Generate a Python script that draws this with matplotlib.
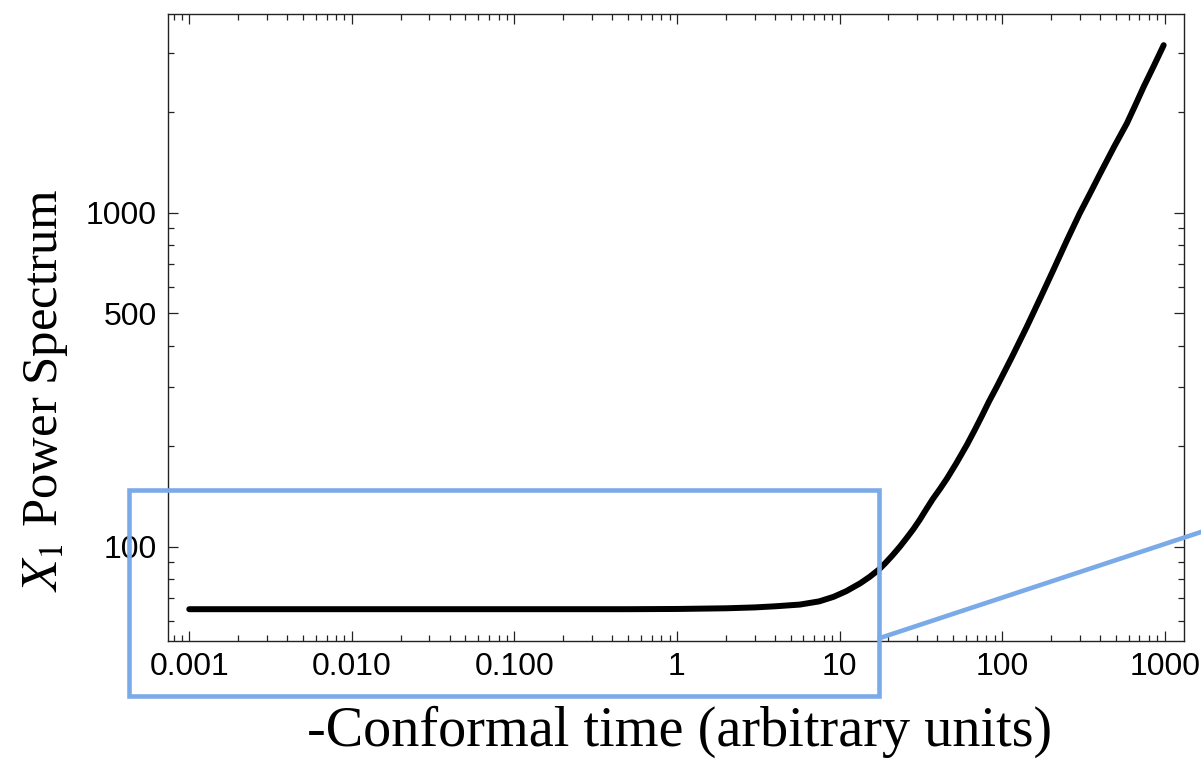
import matplotlib
matplotlib.use("Agg")
import matplotlib.pyplot as plt
from matplotlib.patches import Rectangle
from matplotlib.lines import Line2D
from matplotlib.ticker import FixedLocator, FixedFormatter, NullFormatter

# ---- data ----
conformal_time = [0.001, 0.01, 0.1, 0.5, 1, 2, 3, 4, 5.7, 7.5, 9.2, 11, 13.4,
                  15.3, 17.4, 19, 21, 23.5, 26, 28.5, 31, 34, 37.5, 41.5, 45.8,
                  52, 60.8, 68, 75, 83, 93, 115, 142, 175, 207, 250, 300, 350,
                  402, 490, 586, 660, 743, 860, 986]
power = [65.0, 65.0, 65.0, 65.0, 65.1, 65.4, 65.8, 66.3, 67.1, 68.6, 70.8,
         73.6, 77.7, 81.2, 85.3, 89.0, 93.8, 100, 106.5, 113, 120, 129, 139,
         149, 160, 177, 202, 224, 246, 272, 302, 370, 456, 566, 675, 825, 995,
         1150, 1313, 1580, 1853, 2100, 2384, 2760, 3175]

x_ticks = [0.001, 0.01, 0.1, 1, 10, 100, 1000]
x_tick_labels = ["0.001", "0.010", "0.100", "1", "10", "100", "1000"]
y_ticks = [100, 500, 1000]
y_tick_labels = ["100", "500", "1000"]
y_minor = [60, 70, 80, 90, 200, 300, 400, 600, 700, 800, 900, 2000, 3000]

W, H = 1201, 761
fig = plt.figure(figsize=(W / 100, H / 100), dpi=100)
plt.rcParams['mathtext.fontset'] = 'stix'

ax = fig.add_axes([168 / W, 1 - 641 / H, (1184 - 168) / W, (641 - 14) / H])
ax.set_xscale('log')
ax.set_yscale('log')
ax.set_xlim(0.00074, 1315)
ax.set_ylim(52.2, 3936)

ax.plot(conformal_time, power, color='black', lw=4.3, solid_capstyle='round',
        solid_joinstyle='round')

ax.xaxis.set_major_locator(FixedLocator(x_ticks))
ax.xaxis.set_major_formatter(FixedFormatter(x_tick_labels))
ax.xaxis.set_minor_formatter(NullFormatter())
ax.yaxis.set_major_locator(FixedLocator(y_ticks))
ax.yaxis.set_major_formatter(FixedFormatter(y_tick_labels))
ax.yaxis.set_minor_locator(FixedLocator(y_minor))
ax.yaxis.set_minor_formatter(NullFormatter())

for s in ax.spines.values():
    s.set_linewidth(1.0)
    s.set_color('#222222')
ax.tick_params(which='both', direction='in', top=True, right=True,
               color='#222222', width=0.9)
ax.tick_params(which='major', length=7.2, pad=8, labelsize=23)
ax.tick_params(which='minor', length=4.6)
for lab in ax.get_xticklabels() + ax.get_yticklabels():
    lab.set_fontfamily('Liberation Sans')

# axis labels (serif)
fig.text(680 / W, 1 - 732 / H, "-Conformal time (arbitrary units)",
         ha='center', va='center', fontsize=40.5, family='Liberation Serif')
fig.text(45 / W, 1 - 390 / H, r"$X_1$ Power Spectrum", rotation=90,
         ha='center', va='center', fontsize=36.5, family='Liberation Serif')

# blue zoom-indicator annotation
blue = '#7BAAE8'
rect = Rectangle((129 / W, 1 - 696 / H), (878.5 - 129) / W, (696 - 490) / H,
                 transform=fig.transFigure, fill=False, edgecolor=blue,
                 lw=3.3, zorder=5)
fig.add_artist(rect)
fig.add_artist(Line2D([880 / W, 1201 / W], [1 - 638 / H, 1 - 532 / H],
                      transform=fig.transFigure, color=blue, lw=3.3, zorder=5))

fig.savefig("out.png", dpi=100)
